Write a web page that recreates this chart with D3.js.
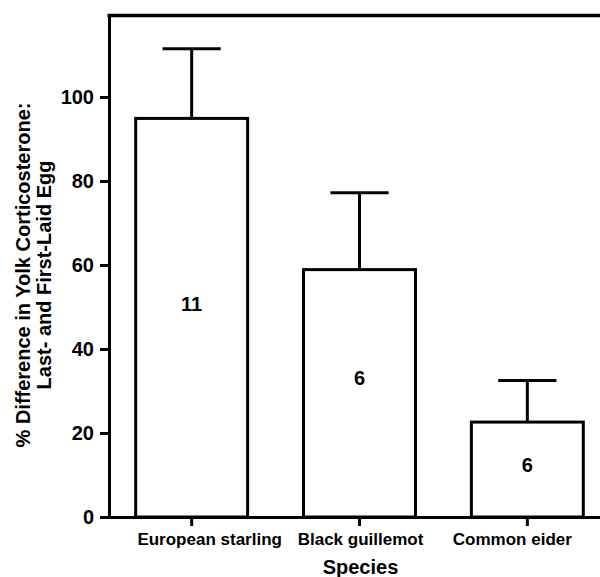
<!DOCTYPE html>
<html lang="en">
<head>
    <meta charset="UTF-8">
    <title>Yolk corticosterone difference by species</title>
    <script src="https://cdn.jsdelivr.net/npm/d3@7"></script>
    <style>
        body {
            margin: 0;
            padding: 0;
            background: #fff;
        }

        svg text {
            font-family: "Liberation Sans", Arial, sans-serif;
            font-weight: bold;
            fill: #000;
        }
    </style>
</head>
<body>
    <svg id="chart"></svg>
    <script>
        // Data
        const species = ['European starling', 'Black guillemot', 'Common eider'];
        const meanDiff = [94.9, 58.9, 22.6];
        const sem = [16.6, 18.3, 9.9];
        const sampleSize = ['11', '6', '6'];
        const sampleLabelAt = [50.7, 33.1, 12.4]; // where the n label sits, in axis units
        const yTicks = [0, 20, 40, 60, 80, 100];

        const width = 600, height = 577;
        const svg = d3.select('#chart')
            .attr('width', width)
            .attr('height', height);

        const plotLeft = 109, plotRight = 610, plotTop = 15.5, plotBottom = 517;
        // category labels are nudged off their ticks in the original
        const labelNudge = [18, 1, -15];

        const x = d3.scaleBand()
            .domain(species)
            .range([plotLeft, plotRight])
            .paddingInner(0.333)
            .paddingOuter(0.159);

        const y = d3.scaleLinear()
            .domain([0, 119.4])
            .range([plotBottom, plotTop]);

        // bars
        svg.append('g')
            .selectAll('rect')
            .data(species)
            .enter()
            .append('rect')
            .attr('x', d => x(d))
            .attr('y', (d, i) => y(meanDiff[i]))
            .attr('width', x.bandwidth())
            .attr('height', (d, i) => y(0) - y(meanDiff[i]))
            .attr('fill', '#fff')
            .attr('stroke', '#000')
            .attr('stroke-width', 3);

        // error bars (upper only)
        const capW = x.bandwidth() * 0.52;
        const err = svg.append('g')
            .attr('stroke', '#000')
            .attr('stroke-width', 3);

        species.forEach((s, i) => {
            const cx = x(s) + x.bandwidth() / 2;
            err.append('line')
                .attr('x1', cx).attr('x2', cx)
                .attr('y1', y(meanDiff[i]))
                .attr('y2', y(meanDiff[i] + sem[i]));
            err.append('line')
                .attr('x1', cx - capW / 2).attr('x2', cx + capW / 2)
                .attr('y1', y(meanDiff[i] + sem[i]))
                .attr('y2', y(meanDiff[i] + sem[i]));
        });

        // sample sizes inside bars
        svg.append('g')
            .selectAll('text')
            .data(species)
            .enter()
            .append('text')
            .attr('x', d => x(d) + x.bandwidth() / 2)
            .attr('y', (d, i) => y(sampleLabelAt[i]))
            .attr('dy', '0.35em')
            .attr('text-anchor', 'middle')
            .style('font-size', '20px')
            .text((d, i) => sampleSize[i]);

        // top border of frame
        svg.append('line')
            .attr('x1', plotLeft - 1.5).attr('x2', plotRight)
            .attr('y1', plotTop).attr('y2', plotTop)
            .attr('stroke', '#000')
            .attr('stroke-width', 3.3);

        // axes
        const yAxis = svg.append('g')
            .attr('transform', `translate(${plotLeft},0)`)
            .call(d3.axisLeft(y).tickValues(yTicks).tickSize(9).tickSizeOuter(0).tickPadding(6));

        const xAxis = svg.append('g')
            .attr('transform', `translate(0,${plotBottom})`)
            .call(d3.axisBottom(x).tickSize(9).tickSizeOuter(0).tickPadding(7));

        [yAxis, xAxis].forEach(ax => {
            ax.selectAll('path, line')
                .attr('stroke', '#000')
                .attr('stroke-width', 3);
            ax.select('.domain').attr('stroke-linecap', 'square');
        });
        yAxis.selectAll('text').style('font-size', '20px').attr('fill', '#000');
        xAxis.selectAll('text')
            .style('font-size', '17px')
            .attr('fill', '#000')
            .attr('dx', (d, i) => labelNudge[i]);

        // axis titles
        svg.append('text')
            .attr('x', (plotLeft + plotRight) / 2 + 1)
            .attr('y', 573.5)
            .attr('text-anchor', 'middle')
            .style('font-size', '20px')
            .text('Species');

        const yTitle = svg.append('text')
            .attr('transform', 'translate(30,275) rotate(-90)')
            .attr('text-anchor', 'middle')
            .style('font-size', '20px');
        yTitle.append('tspan')
            .attr('x', 0).attr('y', 0)
            .text('% Difference in Yolk Corticosterone:');
        yTitle.append('tspan')
            .attr('x', 0).attr('y', 21)
            .text('Last- and First-Laid Egg');
    </script>
</body>
</html>
